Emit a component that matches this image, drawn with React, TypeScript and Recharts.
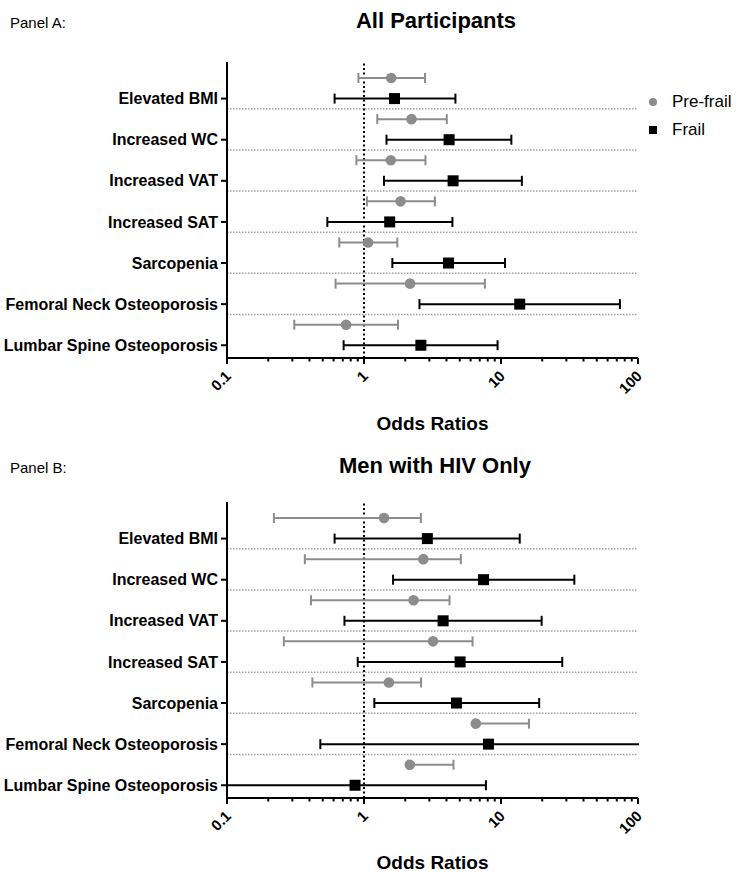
import React from 'react';
import { ScatterChart, Scatter, XAxis, YAxis, ErrorBar, ReferenceLine, Legend } from 'recharts';

const FONT = "Arial, 'Liberation Sans', Helvetica, sans-serif";
const GREY = '#8c8c8c';

const categories = [
  'Elevated BMI',
  'Increased WC',
  'Increased VAT',
  'Increased SAT',
  'Sarcopenia',
  'Femoral Neck Osteoporosis',
  'Lumbar Spine Osteoporosis',
];

// Panel A: All Participants
const aPreOR = [1.58, 2.22, 1.57, 1.85, 1.07, 2.17, 0.74];
const aPreLow = [0.91, 1.25, 0.88, 1.05, 0.66, 0.62, 0.31];
const aPreHigh = [2.79, 4.02, 2.81, 3.29, 1.75, 7.63, 1.77];
const aFrailOR = [1.67, 4.18, 4.47, 1.54, 4.14, 13.7, 2.6];
const aFrailLow = [0.61, 1.46, 1.4, 0.54, 1.61, 2.54, 0.71];
const aFrailHigh = [4.65, 11.9, 14.2, 4.42, 10.7, 73.8, 9.44];

// Panel B: Men with HIV Only
const bPreOR = [1.4, 2.71, 2.3, 3.19, 1.52, 6.55, 2.16];
const bPreLow = [0.22, 0.37, 0.41, 0.26, 0.42, 6.4, 2.1];
const bPreHigh = [2.6, 5.09, 4.21, 6.2, 2.61, 16.0, 4.5];
const bFrailOR = [2.9, 7.46, 3.78, 5.03, 4.73, 8.1, 0.86];
const bFrailLow = [0.61, 1.63, 0.72, 0.9, 1.19, 0.48, 0.05];
const bFrailHigh = [13.7, 34.3, 19.8, 28.0, 19.0, 160, 7.76];

const xTicks = [
  0.1, 0.2, 0.3, 0.4, 0.5, 0.6, 0.7, 0.8, 0.9,
  1, 2, 3, 4, 5, 6, 7, 8, 9,
  10, 20, 30, 40, 50, 60, 70, 80, 90, 100,
];
const majorTicks = [0.1, 1, 10, 100];
const majorLabels = ['0.1', '1', '10', '100'];

const rowTicks = [0, 1, 2, 3, 4, 5, 6];
const separators = [0.25, 1.25, 2.25, 3.25, 4.25, 5.25];
const PRE_OFFSET = -0.5;
const seriesOrder = ['Pre-frail', 'Frail'];

const makeRows = (or: number[], lo: number[], hi: number[], offset: number) =>
  or.map((v, i) => ({ x: v, y: i + offset, err: [v - lo[i], hi[i] - v] }));

const CircleShape = (p: any) => <circle cx={p.cx} cy={p.cy} r={5.3} fill={GREY} />;
const SquareShape = (p: any) => (
  <rect x={p.cx - 5.5} y={p.cy - 5.5} width={11} height={11} fill="#000" />
);

const XTick = (props: any) => {
  const { x, y, payload } = props;
  const idx = majorTicks.indexOf(payload.value);
  const major = idx >= 0;
  return (
    <g>
      <line x1={x} x2={x} y1={y} y2={y + (major ? 6 : 3.5)} stroke="#000" strokeWidth={2} />
      {major && (
        <text
          x={x + 5}
          y={y + 19}
          transform={`rotate(-45, ${x + 5}, ${y + 19})`}
          textAnchor="end"
          fontFamily={FONT}
          fontWeight={700}
          fontSize={15}
          fill="#000"
        >
          {majorLabels[idx]}
        </text>
      )}
    </g>
  );
};

const renderLegend = (props: any) => {
  const payload = [...(props.payload || [])].sort(
    (a: any, b: any) => seriesOrder.indexOf(a.value) - seriesOrder.indexOf(b.value)
  );
  return (
    <div style={{ fontFamily: FONT, fontSize: 17, color: '#000' }}>
      {payload.map((entry: any) => (
        <div key={entry.value} style={{ display: 'flex', alignItems: 'center', height: 28 }}>
          <svg width={10} height={10} style={{ display: 'block' }}>
            {entry.type === 'square' ? (
              <rect x={1} y={1} width={8} height={8} fill="#000" />
            ) : (
              <circle cx={5} cy={5} r={4} fill={GREY} />
            )}
          </svg>
          <span style={{ marginLeft: 14 }}>{entry.value}</span>
        </div>
      ))}
    </div>
  );
};

type PanelProps = {
  top: number;
  height: number;
  marginTop: number;
  xAxisHeight: number;
  labelOffset: number;
  pre: any[];
  frail: any[];
  showLegend: boolean;
};

function Panel({ top, height, marginTop, xAxisHeight, labelOffset, pre, frail, showLegend }: PanelProps) {
  return (
    <div style={{ position: 'absolute', left: 0, top, width: 744, height }}>
      <ScatterChart
        width={744}
        height={height}
        margin={{ top: marginTop, right: 106, bottom: 0, left: 0 }}
        style={{ fontFamily: FONT }}
      >
        <XAxis
          type="number"
          dataKey="x"
          scale="log"
          domain={[0.1, 100]}
          allowDataOverflow
          ticks={xTicks}
          interval={0}
          tick={(p: any) => <XTick {...p} />}
          tickLine={false}
          tickSize={0}
          tickMargin={0}
          axisLine={{ stroke: '#000', strokeWidth: 2 }}
          height={xAxisHeight}
          label={{
            value: 'Odds Ratios',
            position: 'insideBottom',
            offset: labelOffset,
            fontFamily: FONT,
            fontSize: 19,
            fontWeight: 700,
            fill: '#000',
          }}
        />
        <YAxis
          type="number"
          dataKey="y"
          reversed
          domain={[-0.89, 6.31]}
          allowDataOverflow
          ticks={rowTicks}
          interval={0}
          tickFormatter={(v: number) => categories[v] ?? ''}
          width={227}
          tick={{ fontSize: 16, fontWeight: 700, fill: '#000', fontFamily: FONT }}
          tickSize={6}
          tickMargin={3}
          tickLine={{ stroke: '#000', strokeWidth: 2 }}
          axisLine={{ stroke: '#000', strokeWidth: 2 }}
        />
        {separators.map((s) => (
          <ReferenceLine key={s} y={s} stroke="#a3a3a3" strokeWidth={1.5} strokeDasharray="1.5 1.5" />
        ))}
        <ReferenceLine x={1} stroke="#000" strokeWidth={2} strokeDasharray="2 2.5" />
        <Scatter
          name="Pre-frail"
          data={pre}
          fill={GREY}
          legendType="circle"
          shape={CircleShape}
          isAnimationActive={false}
        >
          <ErrorBar
            dataKey="err"
            direction="x"
            width={5}
            stroke={GREY}
            strokeWidth={2}
            clipPath="url(#forestPlotClip)"
            isAnimationActive={false}
          />
        </Scatter>
        <Scatter
          name="Frail"
          data={frail}
          fill="#000"
          legendType="square"
          shape={SquareShape}
          isAnimationActive={false}
        >
          <ErrorBar
            dataKey="err"
            direction="x"
            width={5}
            stroke="#000"
            strokeWidth={2}
            clipPath="url(#forestPlotClip)"
            isAnimationActive={false}
          />
        </Scatter>
        {showLegend && (
          <Legend
            layout="vertical"
            align="center"
            verticalAlign="middle"
            content={renderLegend}
            wrapperStyle={{ position: 'absolute', left: 648, top: 88, width: 96, height: 56 }}
          />
        )}
      </ScatterChart>
    </div>
  );
}

export default function App() {
  const aPre = makeRows(aPreOR, aPreLow, aPreHigh, PRE_OFFSET);
  const aFrail = makeRows(aFrailOR, aFrailLow, aFrailHigh, 0);
  const bPre = makeRows(bPreOR, bPreLow, bPreHigh, PRE_OFFSET);
  const bFrail = makeRows(bFrailOR, bFrailLow, bFrailHigh, 0);

  const titleStyle: React.CSSProperties = {
    position: 'absolute',
    left: 236,
    width: 400,
    textAlign: 'center',
    fontFamily: FONT,
    fontWeight: 700,
    fontSize: 22,
    color: '#000',
    lineHeight: '25px',
    whiteSpace: 'nowrap',
  };
  const panelLabelStyle: React.CSSProperties = {
    position: 'absolute',
    left: 10,
    fontFamily: FONT,
    fontSize: 15,
    color: '#000',
    lineHeight: '17px',
    whiteSpace: 'nowrap',
  };

  return (
    <div style={{ position: 'absolute', left: 0, top: 0, width: 744, height: 872, background: '#fff', overflow: 'hidden' }}>
      <svg width={0} height={0} style={{ position: 'absolute' }}>
        <defs>
          <clipPath id="forestPlotClip" clipPathUnits="userSpaceOnUse">
            <rect x={227} y={0} width={412} height={872} />
          </clipPath>
        </defs>
      </svg>
      <div style={{ ...panelLabelStyle, top: 14 }}>Panel A:</div>
      <div style={{ ...titleStyle, top: 8 }}>All Participants</div>
      <Panel
        top={0}
        height={440}
        marginTop={62}
        xAxisHeight={82}
        labelOffset={10}
        pre={aPre}
        frail={aFrail}
        showLegend
      />
      <div style={{ ...panelLabelStyle, top: 459 }}>Panel B:</div>
      <div style={{ ...titleStyle, left: 235, top: 453 }}>Men with HIV Only</div>
      <Panel
        top={440}
        height={432}
        marginTop={62}
        xAxisHeight={74}
        labelOffset={3}
        pre={bPre}
        frail={bFrail}
        showLegend={false}
      />
    </div>
  );
}
